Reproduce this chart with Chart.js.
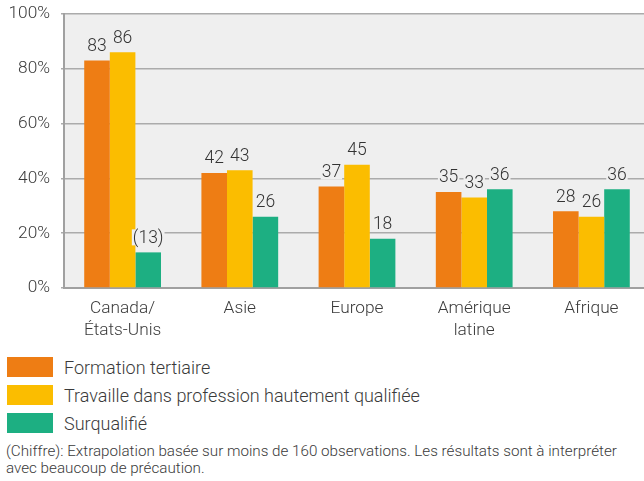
<!DOCTYPE html>
<html lang="fr">
<head>
<meta charset="utf-8">
<title>Formation et qualification par région</title>
<script src="https://cdn.jsdelivr.net/npm/chart.js@4.4.1/dist/chart.umd.min.js"></script>
<style>
  html, body { margin: 0; padding: 0; background: #fff; overflow: hidden; }
  body { width: 644px; height: 481px; position: relative; font-family: Roboto, "Noto Sans", sans-serif; color: #3a3a3a; }
  #wrap { position: absolute; left: 0; top: 0; width: 650px; height: 345px; }
  #legend { position: absolute; left: 7px; top: 357px; }
  .row { height: 20px; margin-bottom: 8px; display: flex; align-items: center; }
  .box { width: 46px; height: 20px; margin-right: 11px; }
  .row span { font-size: 18px; font-weight: 300; }
  #note { position: absolute; left: 6px; top: 443px; font-size: 15.2px; line-height: 17px; font-weight: 300; white-space: nowrap; }
</style>
</head>
<body>
<div id="wrap"><canvas id="chart" width="650" height="345"></canvas></div>
<div id="legend"></div>
<div id="note">(Chiffre): Extrapolation basée sur moins de 160 observations. Les résultats sont à interpréter<br>avec beaucoup de précaution.</div>

<script>
// -------------------------------
// DONNÉES
// -------------------------------
const regions = [["Canada/", "États-Unis"], "Asie", "Europe", ["Amérique", "latine"], "Afrique"];

const seriesNames = [
  "Formation tertiaire",
  "Travaille dans profession hautement qualifiée",
  "Surqualifié"
];
const seriesColors = ["#ee7d14", "#fbbd00", "#1daf82"];

const formation = [83, 42, 37, 35, 28];
const travaille = [86, 43, 45, 33, 26];
const surqualifie = [13, 26, 18, 36, 36];

// valeurs basées sur moins de 160 observations -> entre parenthèses
const peuObs = [
  [false, false, false, false, false],
  [false, false, false, false, false],
  [true, false, false, false, false]
];

const yTicks = [0, 20, 40, 60, 80, 100];

const FONT = "Roboto";
const PLOT_BG = "#efefef";
const GRID = "#ababab";

// -------------------------------
// PLUGINS
// -------------------------------
const plotBackground = {
  id: "plotBackground",
  beforeDraw(chart) {
    const { ctx, chartArea: a } = chart;
    ctx.save();
    ctx.fillStyle = PLOT_BG;
    ctx.fillRect(a.left, a.top, a.right - a.left, a.bottom - a.top);
    ctx.restore();
  }
};

const valueLabels = {
  id: "valueLabels",
  afterDatasetsDraw(chart) {
    const ctx = chart.ctx;
    ctx.save();
    ctx.font = "300 17.5px " + FONT;
    ctx.textAlign = "center";
    ctx.textBaseline = "middle";
    chart.data.datasets.forEach((ds, i) => {
      chart.getDatasetMeta(i).data.forEach((bar, j) => {
        let txt = String(ds.data[j]);
        if (peuObs[i][j]) txt = "(" + txt + ")";
        const w = ctx.measureText(txt).width;
        const y = bar.y - 15;
        ctx.fillStyle = PLOT_BG;
        ctx.fillRect(bar.x - w / 2 - 1, y - 8, w + 2, 16);
        ctx.fillStyle = "#333";
        ctx.fillText(txt, bar.x, y + 1);
      });
    });
    ctx.restore();
  }
};

// -------------------------------
// GRAPHIQUE
// -------------------------------
const ctx = document.getElementById("chart").getContext("2d");

new Chart(ctx, {
  type: "bar",
  data: {
    labels: regions,
    datasets: [formation, travaille, surqualifie].map((d, i) => ({
      label: seriesNames[i],
      data: d,
      backgroundColor: seriesColors[i],
      borderWidth: 0,
      barPercentage: 1,
      categoryPercentage: 0.655
    }))
  },
  options: {
    responsive: false,
    animation: false,
    layout: { padding: { top: 14, right: 0, left: 0, bottom: 0 } },
    plugins: {
      legend: { display: false },
      tooltip: { enabled: false }
    },
    scales: {
      x: {
        grid: { display: false, drawTicks: false },
        border: { display: true, color: "#a0a0a0", width: 2 },
        ticks: {
          color: "#3a3a3a",
          font: { family: FONT, size: 17.3, weight: "300", lineHeight: 1.27 },
          padding: 10,
          maxRotation: 0,
          autoSkip: false
        },
        afterFit(scale) {
          scale.height = 57;
          scale.paddingLeft = 0;
          scale.paddingRight = 0;
        }
      },
      y: {
        min: 0,
        max: 100,
        afterBuildTicks(scale) { scale.ticks = yTicks.map(v => ({ value: v })); },
        grid: { color: GRID, lineWidth: 1.5, tickLength: 3 },
        border: { display: true, color: "#a0a0a0", width: 2 },
        ticks: {
          color: "#3a3a3a",
          font: { family: FONT, size: 17.3, weight: "300" },
          padding: 11,
          callback: v => v + "%"
        },
        afterFit(scale) {
          scale.width = 64;
          scale.paddingTop = 0;
          scale.paddingBottom = 0;
        }
      }
    }
  },
  plugins: [plotBackground, valueLabels]
});

// -------------------------------
// LÉGENDE
// -------------------------------
const legend = document.getElementById("legend");
seriesNames.forEach((name, i) => {
  const row = document.createElement("div");
  row.className = "row";
  row.innerHTML = '<div class="box" style="background:' + seriesColors[i] + '"></div><span>' + name + "</span>";
  legend.appendChild(row);
});
</script>
</body>
</html>
